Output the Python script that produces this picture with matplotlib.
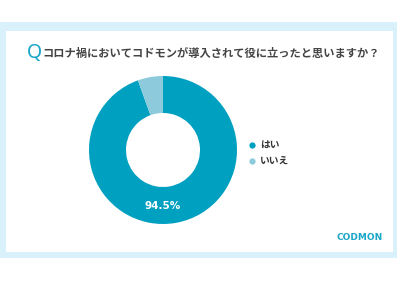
import matplotlib
matplotlib.use("Agg")
import matplotlib.pyplot as plt
from matplotlib.patches import Rectangle
from matplotlib.lines import Line2D

plt.rcParams['font.family'] = ['Noto Sans CJK JP', 'DejaVu Sans']

title = "コロナ禍においてコドモンが導入されて役に立ったと思いますか？"
labels = ["はい", "いいえ"]
values = [94.5, 5.5]
colors = ["#00a0c1", "#8dcbdc"]

W, H = 400, 300
fig = plt.figure(figsize=(4, 3), dpi=100)
fig.patch.set_facecolor("white")

# background frame
fig.patches.append(Rectangle((0 / W, 1 - 258 / H), 397 / W, 236 / H, transform=fig.transFigure,
                             facecolor="#d8f1fa", edgecolor="none", zorder=-2))
fig.patches.append(Rectangle((6 / W, 1 - 252 / H), 387 / W, 221 / H, transform=fig.transFigure,
                             facecolor="white", edgecolor="none", zorder=-1))

# title
fig.text(27 / W, 1 - 53 / H, "Q", color="#1aa6c8", fontsize=14, va="center", ha="left",
         family="Noto Sans", fontweight="light")
fig.text(42 / W, 1 - 53 / H, title, color="#444444", fontsize=8.1, va="center", ha="left",
         fontweight="bold")

# donut
cx, cy, r = 163, 150, 74
ax = fig.add_axes([(cx - r) / W, 1 - (cy + r) / H, 2 * r / W, 2 * r / H])
wedges, _ = ax.pie(values, colors=colors, startangle=90, counterclock=False,
                   wedgeprops=dict(width=0.5, edgecolor="none"), radius=1)
ax.set_xlim(-1, 1)
ax.set_ylim(-1, 1)
ax.set_aspect("equal")
ax.axis("off")
ax.text(0, -0.76, f"{values[0]}%", color="white", fontsize=7.5, fontweight="bold",
        ha="center", va="center", family="DejaVu Sans")

# legend
for i, (lab, col) in enumerate(zip(labels, colors)):
    y = 145 + i * 16
    fig.add_artist(Line2D([252 / W], [1 - y / H], marker="o", markersize=4.5,
                          markerfacecolor=col, markeredgecolor="none", linestyle="none",
                          transform=fig.transFigure))
    fig.text(260 / W, 1 - y / H, lab, color="#333333", fontsize=7, fontweight="bold",
             va="center", ha="left")

# logo
fig.text(383 / W, 1 - 237 / H, "CODMON", color="#1aa6c8", fontsize=6.5, fontweight="bold",
         ha="right", va="center", family="DejaVu Sans")

fig.savefig("out.png", dpi=100)
